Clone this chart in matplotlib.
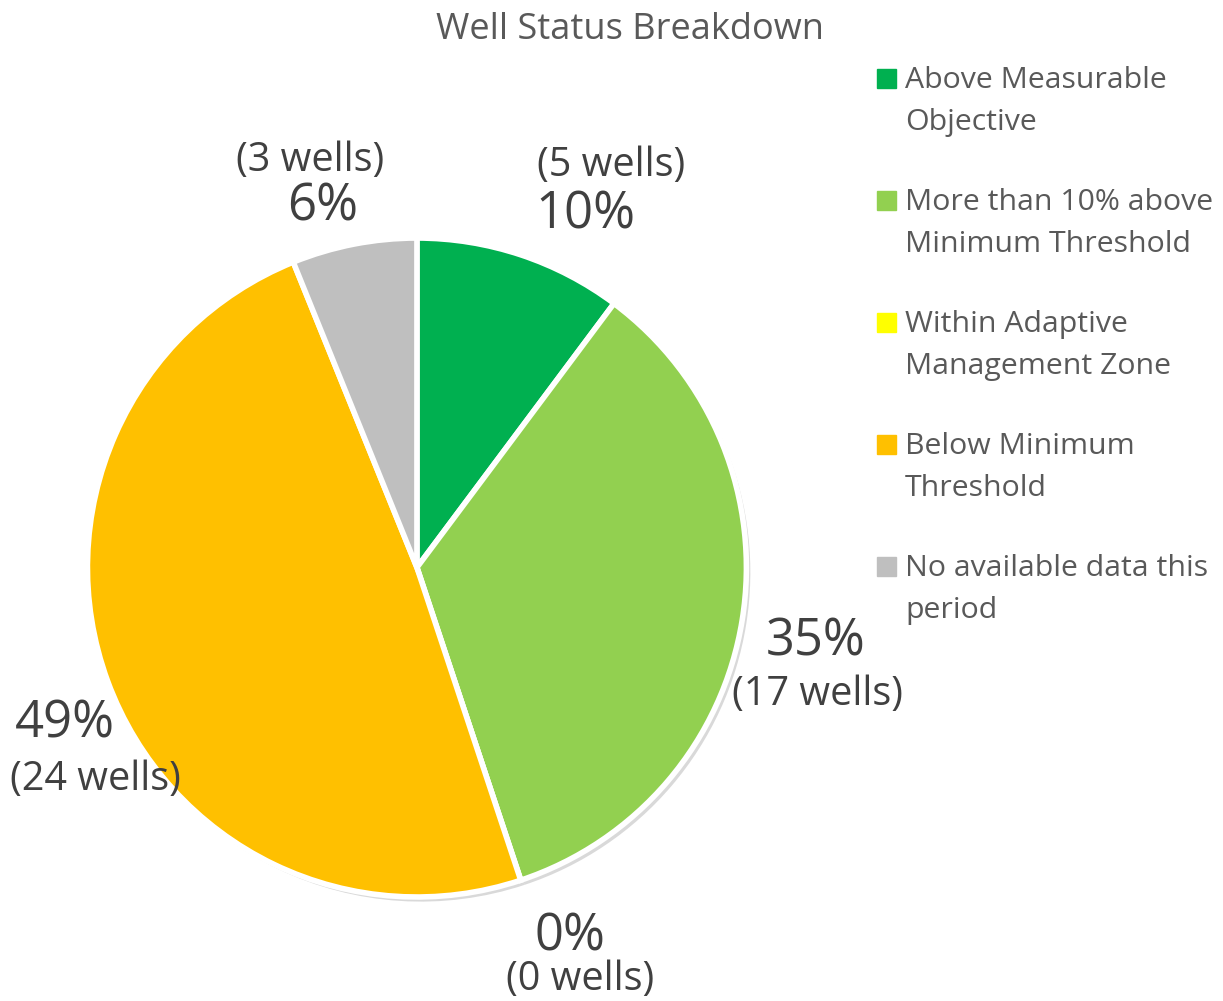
import matplotlib.pyplot as plt
from matplotlib.patches import Rectangle

plt.rcParams['font.family'] = ['Open Sans', 'DejaVu Sans']

categories = ['Above Measurable\nObjective',
              'More than 10% above\nMinimum Threshold',
              'Within Adaptive\nManagement Zone',
              'Below Minimum\nThreshold',
              'No available data this\nperiod']
wells = [5, 17, 0, 24, 3]
colors = ['#00B050', '#92D050', '#FFFF00', '#FFC000', '#BFBFBF']

# label positions in data units (radius = 1)
pct_pos = [(0.51, 1.07), (1.21, -0.225), (0.465, -1.12), (-1.07, -0.475), (-0.285, 1.095)]
cnt_pos = [(0.59, 1.22), (1.215, -0.385), (0.495, -1.252), (-0.975, -0.643), (-0.325, 1.235)]

fig = plt.figure(figsize=(12.23, 10.01), dpi=100)
ax = fig.add_axes([0.0715, 0.1039, 0.5388, 0.6583])

# soft shadow
ax.pie(wells, radius=1, startangle=90, counterclock=False, center=(0.012, -0.014),
       colors=['#c0c0c0'] * 5, wedgeprops=dict(edgecolor='none', alpha=0.6))
wedges, _ = ax.pie(wells, radius=1, startangle=90, counterclock=False, colors=colors,
                   wedgeprops=dict(edgecolor='white', linewidth=4))
ax.set_xlim(-1, 1)
ax.set_ylim(-1, 1)
ax.set_aspect('equal')
ax.axis('off')

total = sum(wells)
for i, v in enumerate(wells):
    pct = '%d%%' % round(100 * v / total)
    cnt = '(%d wells)' % v
    ax.text(*pct_pos[i], pct, fontsize=36.5, color='#404040', ha='center', va='center', clip_on=False)
    ax.text(*cnt_pos[i], cnt, fontsize=28.5, color='#404040', ha='center', va='center', clip_on=False)

fig.text(630 / 1223, 1 - 30 / 1001, 'Well Status Breakdown', fontsize=26, color='#595959',
         ha='center', va='center')

W, H = 1223, 1001
for i, lab in enumerate(categories):
    ytop = 78 + 122 * i
    fig.patches.append(Rectangle((877 / W, 1 - (ytop + 10) / H), 19 / W, 19 / H,
                                 transform=fig.transFigure, color=colors[i]))
    fig.text(905 / W, 1 - (ytop - 12) / H, lab, fontsize=21.8, color='#595959',
             ha='left', va='top', linespacing=1.6)

fig.savefig('out.png', dpi=100)
